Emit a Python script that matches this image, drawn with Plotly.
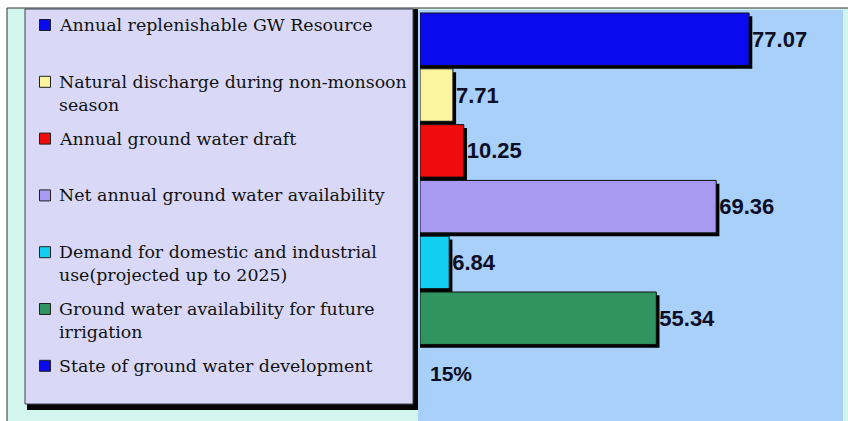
import plotly.graph_objects as go

# ---------------- data ----------------
categories = [
    "Annual replenishable GW Resource",
    "Natural discharge during non-monsoon season",
    "Annual ground water draft",
    "Net annual ground water availability",
    "Demand for domestic and industrial use(projected up to 2025)",
    "Ground water availability for future irrigation",
    "State of ground water development",
]
legend_labels = [
    "Annual replenishable GW Resource",
    "Natural discharge during non-monsoon<br>season",
    "Annual ground water draft",
    "Net annual ground water availability",
    "Demand for domestic and industrial<br>use(projected up to 2025)",
    "Ground water availability for future<br>irrigation",
    "State of ground water development",
]
values = [77.07, 7.71, 10.25, 69.36, 6.84, 55.34]      # first six categories
development_stage = "15%"                               # last category
colors = ["#0a0aee", "#fbf5a0", "#ee0c0c", "#a89af0", "#12cff2", "#2f9460", "#0a0aee"]

W, H = 848, 421
def px_x(p): return p / W
def px_y(p): return 1 - p / H

bar_cats = categories[:len(values)]

fig = go.Figure()

# shadow bars (3-D look)
fig.add_trace(go.Bar(
    y=bar_cats, x=[v + 0.75 for v in values], orientation="h",
    marker=dict(color="#000000", line=dict(width=0)),
    width=0.94, offset=-0.44, hoverinfo="skip", showlegend=False,
    xaxis="x", yaxis="y",
))
# main bars
fig.add_trace(go.Bar(
    y=bar_cats, x=values, orientation="h",
    marker=dict(color=colors[:len(values)], line=dict(color="#101010", width=1)),
    width=0.94, offset=-0.5,
    text=[f"{v:.2f}" for v in values], textposition="outside",
    textfont=dict(family="Liberation Sans, Arial", size=22, color="#0d0d26", weight="bold"),
    cliponaxis=False, showlegend=False, xaxis="x", yaxis="y",
))

# custom legend swatches
fig.add_trace(go.Scatter(
    x=[45] * len(categories), y=categories, mode="markers",
    marker=dict(symbol="square", size=11, color=colors, line=dict(color="#202020", width=1)),
    xaxis="x2", yaxis="y2", hoverinfo="skip", showlegend=False, cliponaxis=False,
))

annotations = []
for i, lab in enumerate(legend_labels):
    annotations.append(dict(
        x=57, y=i, xref="x2", yref="y2", text=lab, showarrow=False,
        xanchor="left", yanchor="top", yshift=12, align="left",
        font=dict(family="DejaVu Serif", size=17.4, color="#111111"),
    ))
annotations.append(dict(
    x=0, y=len(categories) - 1, xref="x", yref="y", text=development_stage,
    showarrow=False, xanchor="left", yanchor="middle", xshift=8, yshift=2,
    font=dict(family="Liberation Sans, Arial", size=21, color="#0d0d26", weight="bold"),
))

shapes = [
    # outer frame
    dict(type="rect", xref="paper", yref="paper", x0=px_x(7), x1=px_x(850), y0=px_y(8), y1=px_y(425),
         fillcolor="#d2f5ee", line=dict(color="#303030", width=1), layer="below"),
    # plot area background
    dict(type="rect", xref="paper", yref="paper", x0=px_x(418), x1=px_x(843), y0=px_y(10), y1=px_y(425),
         fillcolor="#a8d0f8", line=dict(width=0), layer="below"),
    # legend shadow / axis line
    dict(type="rect", xref="paper", yref="paper", x0=px_x(27), x1=px_x(418), y0=px_y(9), y1=px_y(410),
         fillcolor="#050505", line=dict(width=0), layer="below"),
    # legend box
    dict(type="rect", xref="paper", yref="paper", x0=px_x(25), x1=px_x(413), y0=px_y(9), y1=px_y(404),
         fillcolor="#d9d9f7", line=dict(color="#404050", width=1), layer="below"),
]

fig.update_layout(
    width=W, height=H, autosize=False,
    margin=dict(l=0, r=0, t=0, b=0),
    paper_bgcolor="#ffffff", plot_bgcolor="rgba(0,0,0,0)",
    barmode="overlay", showlegend=False,
    xaxis=dict(domain=[px_x(420), px_x(844)], range=[0, 424 / 4.27],
               showgrid=False, zeroline=False, showticklabels=False, showline=False, fixedrange=True),
    yaxis=dict(domain=[0, px_y(10)], type="category", categoryorder="array", categoryarray=categories,
               range=[-0.554 + 411 / 55.8, -0.554],
               showgrid=False, zeroline=False, showticklabels=False, showline=False),
    xaxis2=dict(domain=[px_x(25), px_x(413)], range=[25, 413], anchor="y2",
                showgrid=False, zeroline=False, showticklabels=False, showline=False),
    yaxis2=dict(domain=[0, px_y(10)], anchor="x2", type="category", categoryorder="array",
                categoryarray=categories, range=[-0.264 + 411 / 56.8, -0.264],
                showgrid=False, zeroline=False, showticklabels=False, showline=False),
    shapes=shapes, annotations=annotations,
)

fig.write_html(
    "out.html",
    config={"displayModeBar": False},
    post_script="document.body.style.margin='0';document.body.style.overflow='hidden';",
)
